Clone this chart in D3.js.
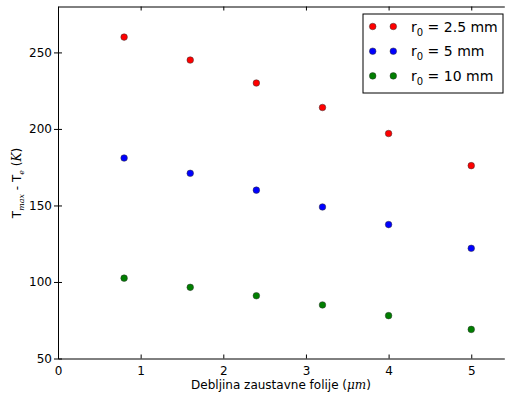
<!DOCTYPE html>
<html><head><meta charset="utf-8">
<script src="https://cdn.jsdelivr.net/npm/d3@7"></script>
<style>body{margin:0;background:#fff}svg{display:block}text{font-family:"DejaVu Sans",sans-serif}</style>
</head><body>
<svg id="c" width="505" height="396"></svg>
<script>
const thickness = [0.8, 1.6, 2.4, 3.2, 4.0, 5.0];
const r25 = [260, 245, 230, 214, 197, 176];
const r5 = [181, 171, 160, 149, 137.5, 122];
const r10 = [102.5, 96.5, 91, 85, 78, 69];
const seriesNames = ["2.5 mm", "5 mm", "10 mm"];
const seriesColors = ["#ff0000", "#0000ff", "#007f00"];
const xTicks = [0, 1, 2, 3, 4, 5];
const yTicks = [50, 100, 150, 200, 250];
const series = [r25, r5, r10];

const svg = d3.select("#c");
const L = 58, T = 6.5, B = 358.5;
const x = d3.scaleLinear().domain([0, 5.4]).range([L, 58 + 5.4 * 82.65]);
const y = d3.scaleLinear().domain([50, 280]).range([B, T]);

// bottom axis
const gx = svg.append("g").attr("transform", `translate(0,${B})`)
  .call(d3.axisBottom(x).tickValues(xTicks).tickFormat(d3.format("d")).tickSizeInner(-4).tickSizeOuter(0).tickPadding(8));
gx.select(".domain").attr("stroke", "#000").attr("stroke-width", 1);
gx.selectAll("text").attr("font-size", 12).attr("fill", "#000");
// top ticks
const gxt = svg.append("g").attr("transform", `translate(0,${T})`)
  .call(d3.axisTop(x).tickValues(xTicks).tickFormat("").tickSizeInner(-4).tickSizeOuter(0));
gxt.select(".domain").attr("stroke", "#000");
// left axis
const gy = svg.append("g").attr("transform", `translate(${L},0)`)
  .call(d3.axisLeft(y).tickValues(yTicks).tickSizeInner(4).tickSizeOuter(0).tickPadding(2));
gy.select(".domain").attr("stroke", "#000");
gy.selectAll("text").attr("font-size", 12).attr("fill", "#000");
gy.selectAll(".tick line").clone().attr("x2", 4);

// points
series.forEach((vals, i) => {
  svg.append("g").selectAll("circle").data(thickness).join("circle")
    .attr("cx", d => x(d)).attr("cy", (d, j) => y(vals[j]))
    .attr("r", 3.3).attr("fill", seriesColors[i]).attr("stroke", "#333").attr("stroke-width", 0.5);
});

// legend
const lg = svg.append("g");
lg.append("rect").attr("x", 363).attr("y", 14).attr("width", 140).attr("height", 79)
  .attr("fill", "#fff").attr("stroke", "#000").attr("stroke-width", 1);
seriesNames.forEach((n, i) => {
  const yy = 26.5 + i * 24.7;
  [372.7, 393.3].forEach(cx => lg.append("circle").attr("cx", cx).attr("cy", yy).attr("r", 3.3)
    .attr("fill", seriesColors[i]).attr("stroke", "#333").attr("stroke-width", 0.5));
  const t = lg.append("text").attr("x", 411).attr("y", yy + 5).attr("font-size", 14).attr("fill", "#000");
  t.append("tspan").text("r");
  t.append("tspan").attr("font-size", 10).attr("dy", 4).text("0");
  t.append("tspan").attr("dy", -4).text(" = " + n);
});

// x label
const xl = svg.append("text").attr("x", 281).attr("y", 389).attr("text-anchor", "middle").attr("font-size", 12).attr("fill", "#000");
xl.append("tspan").text("Debljina zaustavne folije (");
xl.append("tspan").attr("font-style", "italic").attr("font-family", "DejaVu Serif").text("μm");
xl.append("tspan").text(")");

// y label
const yl = svg.append("text").attr("transform", "translate(21,183) rotate(-90)").attr("text-anchor", "middle").attr("font-size", 12).attr("fill", "#000");
yl.append("tspan").text("T");
yl.append("tspan").attr("font-size", 8).attr("dy", 3).attr("font-style", "italic").attr("font-family", "DejaVu Serif").text("max");
yl.append("tspan").attr("dy", -3).text(" - T");
yl.append("tspan").attr("font-size", 8).attr("dy", 3).attr("font-style", "italic").attr("font-family", "DejaVu Serif").text("e");
yl.append("tspan").attr("dy", -3).text(" (");
yl.append("tspan").attr("font-style", "italic").attr("font-family", "DejaVu Serif").text("K");
yl.append("tspan").text(")");
</script>
</body></html>
